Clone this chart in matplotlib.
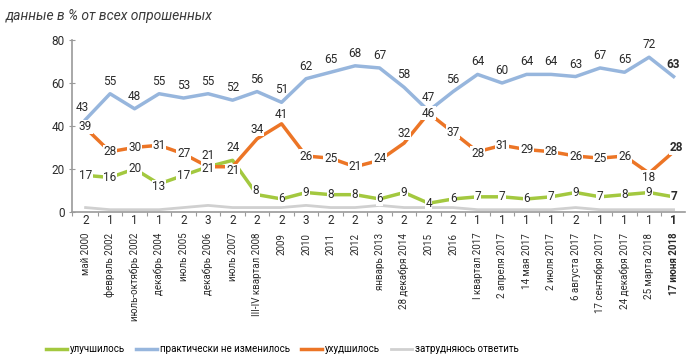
import matplotlib
matplotlib.use("Agg")
import matplotlib.pyplot as plt

plt.rcParams['font.family'] = ["Roboto", "DejaVu Sans"]

categories = ["май 2000", "февраль 2002", "июль-октябрь 2002", "декабрь 2004", "июль 2005",
              "декабрь 2006", "июль 2007", "III-IV квартал 2008", "2009", "2010", "2011", "2012",
              "январь 2013", "28 декабря 2014", "2015", "2016", "I квартал 2017", "2 апреля 2017",
              "14 мая 2017", "2 июля 2017", "6 августа 2017", "17 сентября 2017",
              "24 декабря 2017", "25 марта 2018", "17 июня 2018"]
better = [17, 16, 20, 13, 17, 21, 24, 8, 6, 9, 8, 8, 6, 9, 4, 6, 7, 7, 6, 7, 9, 7, 8, 9, 7]
same = [43, 55, 48, 55, 53, 55, 52, 56, 51, 62, 65, 68, 67, 58, 47, 56, 64, 60, 64, 64, 63, 67, 65, 72, 63]
worse = [39, 28, 30, 31, 27, 21, 21, 34, 41, 26, 25, 21, 24, 32, 46, 37, 28, 31, 29, 28, 26, 25, 26, 18, 28]
hard = [2, 1, 1, 1, 2, 3, 2, 2, 2, 3, 2, 2, 3, 2, 2, 2, 1, 1, 1, 1, 2, 1, 1, 1, 1]

c_green = "#a3c83f"
c_blue = "#97b6dd"
c_orange = "#ec7526"
c_gray = "#d0d0d0"
txt = "#2b2b2b"

fig = plt.figure(figsize=(7, 3.64), dpi=100)
ax = fig.add_axes([0.103, 0.418, 0.875, 0.472])
x = list(range(len(categories)))
n = len(x)

ax.plot(x, hard, color=c_gray, lw=2.0, label="затрудняюсь ответить", zorder=2)
ax.plot(x, better, color=c_green, lw=2.5, label="улучшилось", zorder=3)
ax.plot(x, same, color=c_blue, lw=2.5, label="практически не изменилось", zorder=3)
ax.plot(x, worse, color=c_orange, lw=2.5, label="ухудшилось", zorder=3)

ax.set_xlim(-0.55, n - 0.55)
ax.set_ylim(0, 80)
for s in ["top", "right"]:
    ax.spines[s].set_visible(False)
for s in ["left", "bottom"]:
    ax.spines[s].set_color("#9a9a9a")
    ax.spines[s].set_linewidth(1.2)
ax.set_yticks([0, 20, 40, 60, 80])
ax.tick_params(axis="y", length=4, color="#9a9a9a", labelsize=8.5, labelcolor=txt, direction="inout")
ax.set_xticks([i + 0.5 for i in x[:-1]] + [-0.55])
ax.set_xticklabels([])
ax.tick_params(axis="x", length=3, color="#9a9a9a", direction="out")

box = dict(boxstyle="square,pad=0.05", fc="white", ec="none")
last = n - 1

def wt(i):
    return "bold" if i == last else "normal"

# blue labels above the points
blue_off = {0: (-2, 9), 14: (0, 10)}
for i, v in enumerate(same):
    dx, dy = blue_off.get(i, (0, 9))
    ax.annotate(str(v), (i, v), xytext=(dx, dy), textcoords="offset points", ha="center",
                va="center", fontsize=8.5, color=txt, fontweight=wt(i))

# orange labels mostly on the line
orange_off = {0: (0, 1), 7: (0, 7), 8: (0, 7), 14: (0, 0), 5: (0, -1), 6: (0, -3),
              13: (0, 7), 23: (0, -3), 24: (2, 3), 12: (0, 1), 16: (0, -1)}
for i, v in enumerate(worse):
    dx, dy = orange_off.get(i, (0, 0))
    ax.annotate(str(v), (i, v), xytext=(dx, dy), textcoords="offset points", ha="center",
                va="center", fontsize=8.5, color=txt, fontweight=wt(i), bbox=box, zorder=5)

green_off = {5: (0, 8), 6: (0, 9), 7: (-1, 3), 3: (0, -2)}
for i, v in enumerate(better):
    dx, dy = green_off.get(i, (0, 0))
    ax.annotate(str(v), (i, v), xytext=(dx, dy), textcoords="offset points", ha="center",
                va="center", fontsize=8.5, color=txt, fontweight=wt(i), bbox=box, zorder=5)

# gray values and category names under the axis
for i, v in enumerate(hard):
    ax.annotate(str(v), (i, 0), xytext=(0, -6), textcoords="offset points", ha="center",
                va="center", fontsize=8.5, color=txt, fontweight=wt(i), annotation_clip=False)
    ax.annotate(categories[i], (i, 0), xytext=(0, -15), textcoords="offset points", ha="center",
                va="top", rotation=90, fontsize=7, color=txt, fontweight=wt(i),
                annotation_clip=False)

fig.text(0.008, 0.955, "данные в % от всех опрошенных", fontsize=10, style="italic",
         color="#3a3a3a", va="center", ha="left")

handles, labels = ax.get_legend_handles_labels()
order = [1, 2, 3, 0]
fig.legend([handles[k] for k in order], [labels[k] for k in order], loc="center",
           bbox_to_anchor=(0.403, 0.041), ncol=4, frameon=False, fontsize=7,
           handlelength=2.2, handletextpad=0.3, columnspacing=1.1)

fig.savefig("out.png", dpi=100)
